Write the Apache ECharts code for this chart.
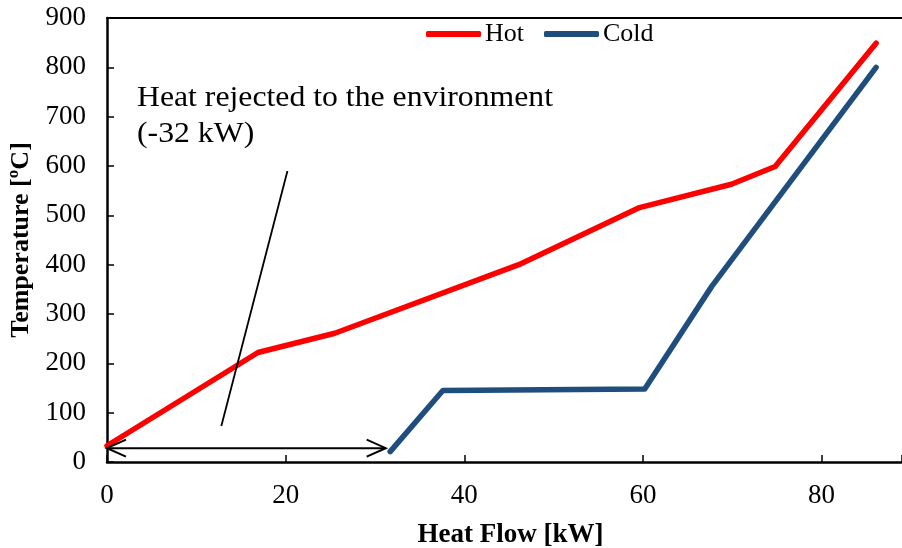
<!DOCTYPE html>
<html>
<head>
<meta charset="utf-8">
<script src="https://cdn.jsdelivr.net/npm/echarts@6/dist/echarts.min.js"></script>
<style>
  html, body { margin: 0; padding: 0; background: #fff; }
  #main { width: 902px; height: 548px; }
</style>
</head>
<body>
<div id="main"></div>
<script>
// 数据
var hotFlow = [0, 16.9, 25.5, 46.1, 59.5, 69.9, 74.8, 86.1];
var hotTemp = [33, 222, 261, 400, 515, 563, 599, 849];
var coldFlow = [31.7, 37.6, 60.2, 67.7, 86.1];
var coldTemp = [21, 145, 148, 356, 800];
var xTicks = [0, 20, 40, 60, 80];
var yTicks = [0, 100, 200, 300, 400, 500, 600, 700, 800, 900];
// 注释: 指示线 和 双向箭头 (数据坐标)
var pointerLine = [20.2, 590, 12.8, 73];
var rejectArrow = [0, 28, 31.2, 28];

function pairs(xs, ys) {
    var out = [];
    for (var i = 0; i < xs.length; i++) out.push([xs[i], ys[i]]);
    return out;
}

var serif = '"Liberation Serif", "Times New Roman", serif';
var chart = echarts.init(document.getElementById('main'), null, { renderer: 'canvas' });

function renderArrow(params, api) {
    var p1 = api.coord([api.value(0), api.value(1)]);
    var p2 = api.coord([api.value(2), api.value(3)]);
    var st = { stroke: '#000', lineWidth: 2, fill: null };
    return {
        type: 'group',
        children: [
            { type: 'line', shape: { x1: p1[0], y1: p1[1], x2: p2[0], y2: p2[1] }, style: st },
            { type: 'polyline', shape: { points: [[p1[0] + 19, p1[1] - 8.5], [p1[0], p1[1]], [p1[0] + 19, p1[1] + 8.5]] }, style: st },
            { type: 'polyline', shape: { points: [[p2[0] - 19, p2[1] - 8.5], [p2[0], p2[1]], [p2[0] - 19, p2[1] + 8.5]] }, style: st }
        ]
    };
}

function renderPointer(params, api) {
    var p1 = api.coord([api.value(0), api.value(1)]);
    var p2 = api.coord([api.value(2), api.value(3)]);
    return {
        type: 'line',
        shape: { x1: p1[0], y1: p1[1], x2: p2[0], y2: p2[1] },
        style: { stroke: '#000', lineWidth: 1.8 }
    };
}

var axisLine = { show: true, lineStyle: { color: '#000', width: 2.5 } };
var axisTick = { show: true, inside: true, length: 7, lineStyle: { color: '#000', width: 1.5 } };

var option = {
    animation: false,
    backgroundColor: '#fff',
    textStyle: { fontFamily: serif },
    grid: { left: 107, top: 18, bottom: 86, right: 0, containLabel: false, outerBoundsMode: 'none' },
    legend: {
        left: 421, top: 16,
        itemWidth: 55, itemHeight: 6, itemGap: 20,
        icon: 'roundRect',
        textStyle: { fontFamily: serif, fontSize: 26, color: '#000', padding: [0, 0, 0, -1] },
        data: ['Hot', 'Cold']
    },
    xAxis: [{
        type: 'value', min: 0, max: 89, interval: 20,
        name: 'Heat Flow [kW]', nameLocation: 'middle', nameGap: 60,
        nameTextStyle: { fontFamily: serif, fontSize: 27, fontWeight: 'bold', color: '#000', padding: [0, 0, 0, 12] },
        axisLine: axisLine,
        axisTick: axisTick,
        axisLabel: {
            fontFamily: serif, fontSize: 27, color: '#000', margin: 20,
            formatter: function (v) { return xTicks.indexOf(v) >= 0 ? String(v) : ''; }
        },
        splitLine: { show: false }
    }, {
        // 顶部边框
        type: 'value', position: 'top', min: 0, max: 89,
        axisLine: { show: true, lineStyle: { color: '#000', width: 2 } },
        axisTick: { show: false }, axisLabel: { show: false }, splitLine: { show: false }
    }],
    yAxis: {
        type: 'value', min: 0, max: 900, interval: 100,
        name: 'Temperature [ºC]', nameLocation: 'middle', nameGap: 72,
        nameTextStyle: { fontFamily: serif, fontSize: 26, fontWeight: 'bold', color: '#000' },
        axisLine: axisLine,
        axisTick: axisTick,
        axisLabel: {
            fontFamily: serif, fontSize: 27, color: '#000', margin: 21,
            formatter: function (v) { return yTicks.indexOf(v) >= 0 ? String(v) : ''; }
        },
        splitLine: { show: false }
    },
    graphic: [{
        type: 'text', left: 137, top: 80, silent: true, scaleX: 1.058,
        style: {
            text: 'Heat rejected to the environment\n(-32 kW)',
            font: '30px ' + serif, fill: '#000', lineHeight: 36
        }
    }],
    series: [
        {
            name: 'Hot', type: 'line', data: pairs(hotFlow, hotTemp),
            showSymbol: false, symbol: 'none',
            lineStyle: { color: '#ff0000', width: 5.5, cap: 'round', join: 'round' },
            itemStyle: { color: '#ff0000' }, z: 3
        },
        {
            name: 'Cold', type: 'line', data: pairs(coldFlow, coldTemp),
            showSymbol: false, symbol: 'none',
            lineStyle: { color: '#1f4e7e', width: 5.5, cap: 'round', join: 'round' },
            itemStyle: { color: '#1f4e7e' }, z: 3
        },
        {
            type: 'custom', renderItem: renderPointer, data: [pointerLine],
            encode: { x: [0, 2], y: [1, 3] }, silent: true, z: 4
        },
        {
            type: 'custom', renderItem: renderArrow, data: [rejectArrow],
            encode: { x: [0, 2], y: [1, 3] }, silent: true, z: 4
        }
    ]
};
chart.setOption(option);
</script>
</body>
</html>
